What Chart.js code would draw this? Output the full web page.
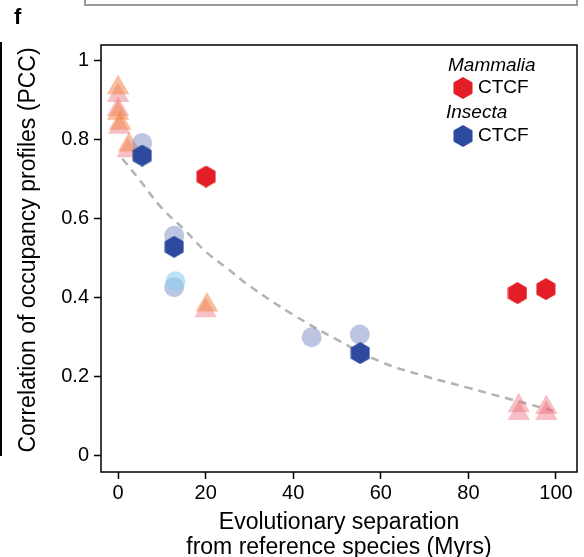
<!DOCTYPE html>
<html>
<head>
<meta charset="utf-8">
<title>CTCF occupancy vs evolutionary separation</title>
<script src="https://cdn.jsdelivr.net/npm/chart.js@4.4.1/dist/chart.umd.min.js"></script>
<style>
  html, body { margin: 0; padding: 0; background: #fff; overflow: hidden; }
</style>
</head>
<body>
<canvas id="myChart" width="584" height="557"></canvas>
<script>
// separation in Myrs (x) and PCC (y)
const mammaliaX = [20.1, 91.2, 97.7];
const mammaliaY = [0.705, 0.41, 0.42];
const insectaX = [5.5, 12.8, 55.3];
const insectaY = [0.758, 0.527, 0.258];
const insectaPaleX = [5.5, 12.8, 12.8, 44.2, 55.2];
const insectaPaleY = [0.79, 0.555, 0.425, 0.298, 0.305];
const skyX = [13.1];
const skyY = [0.44];
const orangeTriX = [0, 0, 0.5, 2.5, 20.3];
const orangeTriY = [0.93, 0.865, 0.84, 0.785, 0.38];
const pinkTriX = [0, 0, 0.3, 2.2, 20, 91.5, 91.5, 97.8, 97.8];
const pinkTriY = [0.91, 0.875, 0.83, 0.77, 0.365, 0.125, 0.105, 0.12, 0.105];
// dashed decay curve
const trendX = [1, 5, 10, 15, 20, 25, 30, 40, 50, 60, 70, 80, 90, 100];
const trendY = [0.75, 0.695, 0.625, 0.572, 0.515, 0.472, 0.428, 0.355, 0.292, 0.236, 0.2, 0.17, 0.14, 0.11];
const xTicks = [0, 20, 40, 60, 80, 100];
const yTicks = [0, 0.2, 0.4, 0.6, 0.8, 1];
const yTickLabels = ['0', '0.2', '0.4', '0.6', '0.8', '1'];

const RED = 'rgb(228,30,38)';
const BLUE = 'rgb(46,74,158)';
const FONT = 'Liberation Sans';

const toPoints = (xs, ys) => xs.map((x, i) => ({x: x, y: ys[i]}));

// pointy-top hexagon used as a point style
function hexagon(color) {
    const c = document.createElement('canvas');
    c.width = 20;
    c.height = 22;
    const g = c.getContext('2d');
    g.fillStyle = color;
    g.beginPath();
    for (let i = 0; i < 6; i++) {
        const a = Math.PI / 3 * i - Math.PI / 2;
        const px = 10 + 11 * Math.cos(a);
        const py = 11 + 11 * Math.sin(a);
        if (i === 0) g.moveTo(px, py); else g.lineTo(px, py);
    }
    g.closePath();
    g.fill();
    return c;
}
const redHex = hexagon(RED);
const blueHex = hexagon(BLUE);

// box, y title, panel letter, legend and bits of the neighbouring panels
const decorations = {
    id: 'decorations',
    afterDraw(chart) {
        const ctx = chart.ctx;
        const a = chart.chartArea;
        ctx.save();
        ctx.strokeStyle = '#000';
        ctx.lineWidth = 1.5;
        ctx.strokeRect(a.left, a.top, a.right - a.left, a.bottom - a.top);

        ctx.lineWidth = 2;
        ctx.beginPath();
        ctx.moveTo(1, 42);
        ctx.lineTo(1, 456);
        ctx.stroke();

        ctx.strokeStyle = '#999';
        ctx.beginPath();
        ctx.moveTo(85, -2);
        ctx.lineTo(85, 5);
        ctx.lineTo(577, 5);
        ctx.lineTo(577, -2);
        ctx.stroke();

        ctx.fillStyle = '#000';
        ctx.textBaseline = 'middle';

        ctx.save();
        ctx.translate(29, 250);
        ctx.rotate(-Math.PI / 2);
        ctx.textAlign = 'center';
        ctx.font = `23px "${FONT}"`;
        ctx.fillText('Correlation of occupancy profiles (PCC)', 0, 0);
        ctx.restore();

        ctx.font = `bold 22px "${FONT}"`;
        ctx.fillText('f', 14, 18);

        ctx.font = `italic 19px "${FONT}"`;
        ctx.fillText('Mammalia', 448, 66);
        ctx.fillText('Insecta', 446, 113);
        ctx.font = `19px "${FONT}"`;
        ctx.drawImage(redHex, 453, 77);
        ctx.fillText('CTCF', 478, 88);
        ctx.drawImage(blueHex, 453, 125);
        ctx.fillText('CTCF', 478, 136);
        ctx.restore();
    }
};

const config = {
    type: 'scatter',
    data: {
        datasets: [
            {
                label: 'Mammalia CTCF',
                data: toPoints(mammaliaX, mammaliaY),
                pointStyle: redHex,
                order: 0
            },
            {
                label: 'Insecta CTCF',
                data: toPoints(insectaX, insectaY),
                pointStyle: blueHex,
                order: 1
            },
            {
                label: 'Insecta pale',
                data: toPoints(insectaPaleX, insectaPaleY),
                pointStyle: 'circle',
                pointRadius: 10,
                backgroundColor: 'rgba(125,140,195,0.5)',
                borderWidth: 0,
                order: 3
            },
            {
                label: 'Insecta sky',
                data: toPoints(skyX, skyY),
                pointStyle: 'circle',
                pointRadius: 10,
                backgroundColor: 'rgba(140,205,240,0.6)',
                borderWidth: 0,
                order: 2
            },
            {
                label: 'orange triangles',
                data: toPoints(orangeTriX, orangeTriY),
                pointStyle: 'triangle',
                pointRadius: 13,
                backgroundColor: 'rgba(242,135,75,0.55)',
                borderWidth: 0,
                order: 4
            },
            {
                label: 'pink triangles',
                data: toPoints(pinkTriX, pinkTriY),
                pointStyle: 'triangle',
                pointRadius: 13,
                backgroundColor: 'rgba(236,105,120,0.42)',
                borderWidth: 0,
                order: 5
            },
            {
                label: 'trend',
                type: 'line',
                data: toPoints(trendX, trendY),
                borderColor: '#b3b3b3',
                borderWidth: 2.5,
                borderDash: [8, 6],
                pointRadius: 0,
                tension: 0.4,
                fill: false,
                order: 6
            }
        ]
    },
    options: {
        responsive: false,
        animation: false,
        events: [],
        layout: { autoPadding: false, padding: { top: 45, right: 7, left: 0, bottom: 0 } },
        plugins: { legend: { display: false }, tooltip: { enabled: false } },
        scales: {
            x: {
                type: 'linear',
                min: -3.9,
                max: 104.8,
                afterBuildTicks: s => { s.ticks = xTicks.map(v => ({value: v})); },
                afterFit: s => { s.height = 85; },
                grid: { drawOnChartArea: false, color: '#000', tickLength: 7, tickWidth: 1.5 },
                border: { display: false },
                ticks: { color: '#000', padding: 2, maxRotation: 0, font: { family: FONT, size: 20 } },
                title: {
                    display: true,
                    text: ['Evolutionary separation', 'from reference species (Myrs)'],
                    color: '#000',
                    font: { family: FONT, size: 23, lineHeight: '25px' },
                    padding: { top: 0, bottom: -3 }
                }
            },
            y: {
                type: 'linear',
                min: -0.043,
                max: 1.038,
                afterBuildTicks: s => { s.ticks = yTicks.map(v => ({value: v})); },
                afterFit: s => { s.width = 101; },
                grid: { drawOnChartArea: false, color: '#000', tickLength: 7, tickWidth: 1.5 },
                border: { display: false },
                ticks: {
                    color: '#000',
                    padding: 5,
                    font: { family: FONT, size: 20 },
                    callback: (value, i) => yTickLabels[i]
                }
            }
        }
    },
    plugins: [decorations]
};

const myChart = new Chart(document.getElementById('myChart'), config);
</script>
</body>
</html>
